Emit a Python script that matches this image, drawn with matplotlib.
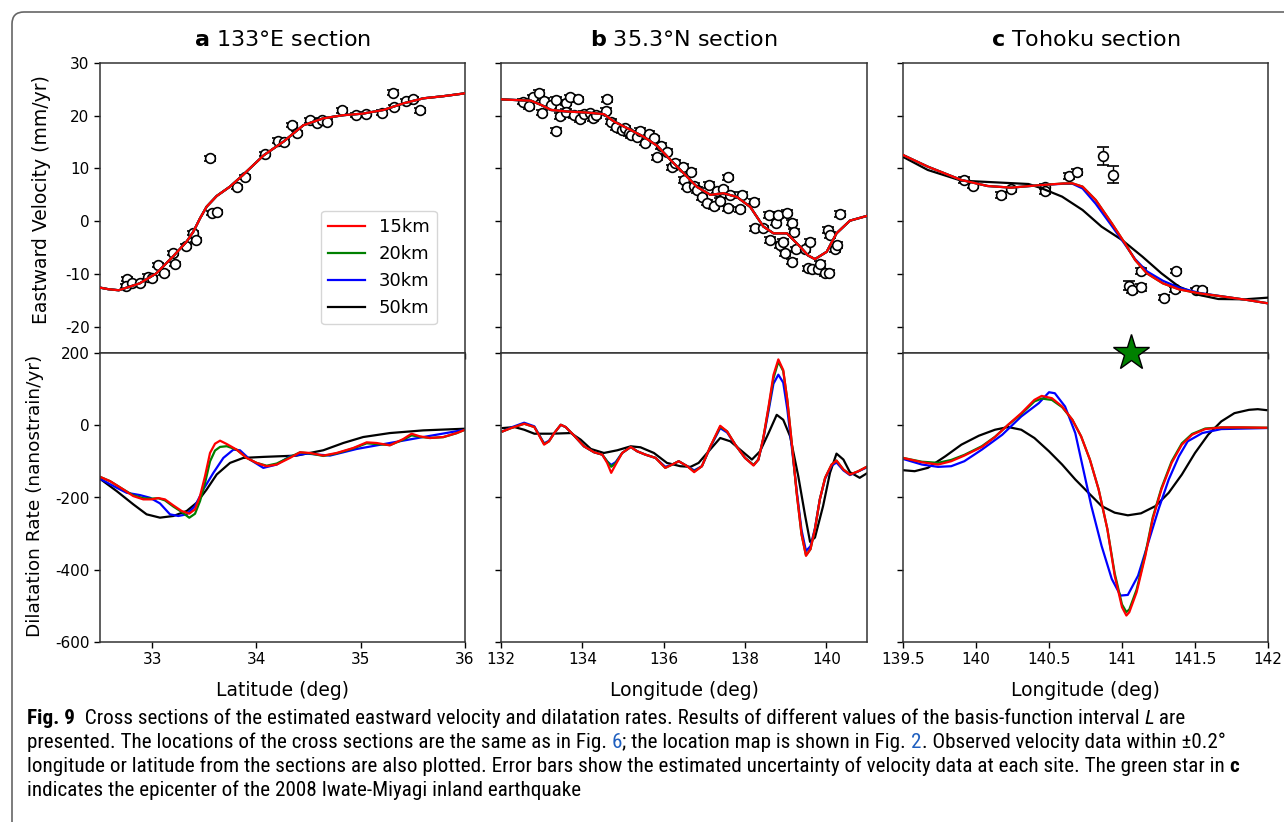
import matplotlib
matplotlib.use('Agg')
import matplotlib.pyplot as plt
from matplotlib import font_manager
from matplotlib.patches import FancyBboxPatch
from matplotlib.transforms import IdentityTransform
from matplotlib.ticker import FormatStrFormatter

plt.rcParams['axes.unicode_minus'] = False
plt.rcParams['font.family'] = ['DejaVu Sans']

intervals = ['15km', '20km', '30km', '50km']
line_colors = ['red', 'green', 'blue', 'black']

# ---- a: 133E section ----
lat_a_v = [32.5, 32.58, 32.68, 32.88, 33.04, 33.2, 33.33, 33.395, 33.459, 33.523, 33.619, 33.746,
           33.87, 34.07, 34.26, 34.45, 34.64, 34.83, 35.02, 35.22, 35.41, 35.6, 35.79, 36.0]
vel_a = [-12.6, -12.9, -13.1, -11.8, -9.9, -6.7, -3.9, -2.0, 0.54, 2.76, 4.78, 6.55,
         8.75, 12.5, 15.1, 18.2, 19.5, 20.1, 20.4, 21.1, 22.35, 23.3, 23.7, 24.25]

obs_a_lat = [32.76, 32.75, 32.81, 32.88, 32.96, 33.0, 33.06, 33.11, 33.2, 33.22, 33.32, 33.39,
             33.42, 33.55, 33.57, 33.62, 33.81, 33.89, 34.08, 34.21, 34.26, 34.34, 34.39, 34.51,
             34.58, 34.63, 34.68, 34.82, 34.95, 35.05, 35.2, 35.31, 35.32, 35.43, 35.5, 35.57]
obs_a_vel = [-11.0, -12.3, -11.7, -11.7, -10.5, -10.8, -8.3, -9.9, -6.1, -8.1, -4.7, -2.3,
             -3.6, 11.9, 1.5, 1.8, 6.5, 8.4, 12.7, 15.3, 15.1, 18.2, 16.7, 19.1,
             18.7, 19.2, 18.9, 21.0, 20.1, 20.3, 20.6, 24.4, 21.7, 22.7, 23.2, 21.0]
obs_a_err = [0.4] * len(obs_a_lat)

dil_a_x = [32.5, 32.596, 32.724, 32.819, 32.915, 32.995, 33.059, 33.123, 33.203, 33.283, 33.356,
           33.411, 33.459, 33.507, 33.555, 33.603, 33.651, 33.715, 33.81, 33.906, 34.002, 34.098,
           34.194, 34.322, 34.418, 34.513, 34.641, 34.769, 34.929, 35.057, 35.152, 35.28, 35.408,
           35.488, 35.568, 35.664, 35.792, 35.92, 36.0]
dil_a_15 = [-142.8, -154.7, -177.7, -196.1, -205.2, -205.2, -201.6, -205.2, -221.8, -237.4, -244.7,
            -232.8, -196.1, -141, -76.7, -51, -42.7, -51.9, -67.5, -90.4, -104.2, -113.4,
            -108.8, -90.4, -74.8, -76.7, -84, -76.7, -62.9, -47.3, -49.1, -55.6, -38.1,
            -23.4, -30.8, -35.3, -32.6, -21.6, -12.4]
dil_a_20 = [-142.8, -154.7, -177.7, -194, -202, -203, -202, -208, -225, -240, -256,
            -245, -210, -160, -100, -70, -60, -58, -67.5, -90.4, -104.2, -112,
            -106, -88, -75, -78, -85, -78, -64, -50, -52, -55, -40,
            -28, -32, -35.3, -33, -22, -12.4]
dil_a_30_x = [32.5, 32.66, 32.756, 32.883, 32.979, 33.075, 33.171, 33.251, 33.331, 33.411, 33.491,
              33.587, 33.683, 33.779, 33.842, 33.938, 34.066, 34.194, 34.322, 34.481, 34.705, 34.961,
              35.28, 35.6, 36.0]
dil_a_30 = [-148.3, -173, -187, -193.3, -200.7, -216.3, -246.6, -251.2, -246.6, -223.6, -177.7,
            -131.8, -90.4, -67.5, -69.3, -95, -118, -108.8, -85.8, -78.5, -84, -65.7,
            -49.1, -32.6, -12.4]
dil_a_50_x = [32.5, 32.66, 32.82, 32.947, 33.075, 33.203, 33.331, 33.427, 33.523, 33.619, 33.747,
              33.874, 34.066, 34.386, 34.641, 34.833, 35.024, 35.28, 35.6, 36.0]
dil_a_50 = [-148.3, -182.3, -219.1, -246.6, -255.8, -251.2, -237.4, -214.5, -177.7, -136.3, -104.2,
            -90.4, -87.6, -84, -69.3, -49.1, -32.6, -21.6, -14.2, -9.6]

# ---- b: 35.3N section ----
lon_b_v = [132.0, 132.74, 133.0, 133.23, 133.63, 134.12, 134.53, 134.78, 135.19, 135.51, 135.84,
           136.17, 136.49, 136.82, 137.15, 137.47, 137.8, 138.13, 138.45, 138.7, 139.03, 139.35,
           139.55, 139.72, 140.01, 140.25, 140.58, 141.0]
vel_b = [23.1, 22.85, 22.0, 21.1, 20.8, 20.6, 20.3, 18.9, 17.3, 16.0, 14.3,
         11.6, 9.1, 6.5, 5.0, 5.3, 4.6, 2.7, -1.0, -2.3, -2.3, -4.8,
         -6.5, -7.2, -5.8, -2.3, 0.1, 1.0]

obs_b_lon = [132.53, 132.69, 132.78, 132.94, 133.05, 133.02, 133.23, 133.35, 133.35, 133.45, 133.59,
             133.61, 133.7, 133.8, 133.9, 133.94, 134.04, 134.19, 134.25, 134.33, 134.57, 134.61,
             134.7, 134.82, 134.98, 135.06, 135.15, 135.19, 135.35, 135.43, 135.55, 135.64, 135.76,
             135.84, 135.94, 136.08, 136.21, 136.29, 136.48, 136.51, 136.66, 136.58, 136.74, 136.82,
             136.94, 137.07, 137.11, 137.23, 137.31, 137.39, 137.47, 137.57, 137.57, 137.64, 137.87,
             137.92, 138.21, 138.25, 138.45, 138.58, 138.62, 138.76, 138.8, 138.85, 138.94, 138.98,
             139.03, 139.15, 139.15, 139.21, 139.26, 139.48, 139.56, 139.6, 139.64, 139.8, 139.84,
             139.96, 140.05, 140.07, 140.1, 140.21, 140.25, 140.33]
obs_b_vel = [22.67, 21.85, 23.49, 24.37, 22.86, 20.58, 22.03, 22.98, 17.17, 19.95, 22.48,
             20.77, 23.49, 20.14, 23.11, 19.32, 20.33, 20.45, 19.51, 20.14, 20.96, 23.11,
             18.87, 17.8, 17.29, 17.61, 16.66, 16.34, 15.9, 17.17, 14.89, 16.53, 15.71,
             12.11, 14.26, 13.18, 10.21, 11.09, 10.33, 7.81, 9.38, 6.55, 6.68, 5.92,
             4.53, 3.52, 6.87, 2.89, 5.8, 3.9, 6.05, 8.33, 2.45, 4.98, 2.26,
             4.98, 3.71, -1.35, -1.35, 1.18, -3.57, -0.28, 1.18, -4.52, -3.89, -6.1,
             1.62, -0.28, -7.68, -1.98, -5.34, -5.34, -8.94, -3.89, -9.13, -9.13, -8.12,
             -9.89, -1.67, -9.76, -2.61, -5.34, -4.52, 1.37]
obs_b_err = [0.5] * len(obs_b_lon)

dil_b_x = [132.04, 132.25, 132.57, 132.82, 132.94, 133.06, 133.18, 133.31, 133.47, 133.59, 133.8,
           134.04, 134.29, 134.49, 134.61, 134.71, 134.82, 134.98, 135.19, 135.35, 135.55, 135.8,
           136.04, 136.21, 136.37, 136.58, 136.75, 136.94, 137.15, 137.39, 137.56, 137.76, 138.0,
           138.21, 138.33, 138.45, 138.58, 138.7, 138.82, 138.94, 139.04, 139.15, 139.27, 139.39,
           139.5, 139.61, 139.72, 139.84, 139.97, 140.13, 140.25, 140.42, 140.58, 140.78, 140.99]
dil_b_15 = [-17, -7.8, 4.1, -5, -28.9, -53.7, -44.5, -21.6, 1.4, -5, -28.9,
            -58.3, -74.8, -81.3, -104.2, -131.8, -108.8, -76.7, -60.1, -72.1, -81.3, -90.4,
            -118, -108.8, -99.6, -113.4, -129.9, -113.4, -58.3, -1.4, -17, -53.7, -90.4,
            -111.6, -95, -35.3, 51.9, 139.1, 182.3, 152.9, 70.3, -49.1, -186.9, -301.7,
            -361.4, -343, -287.9, -205.2, -145.5, -108.8, -97.8, -122.6, -136.4, -127.7, -115.2]
dil_b_20 = [-17, -7.8, 4.1, -5, -28, -52, -44.5, -21.6, 1.4, -5, -28.9,
            -58.3, -74.8, -81.3, -100, -115, -105, -76.7, -60.1, -72.1, -81.3, -90.4,
            -118, -108.8, -99.6, -113.4, -128, -113.4, -58.3, -4, -17, -53.7, -90.4,
            -110, -95, -35.3, 48, 130, 176, 150, 70.3, -49.1, -186.9, -301.7,
            -360, -343, -287.9, -205.2, -145.5, -108.8, -97.8, -122.6, -136.4, -127.7, -115.2]
dil_b_30 = [-17, -6, 7, -3, -27, -50, -43, -21.6, 1, -5, -28.9,
            -58.3, -74.8, -81.3, -100, -110, -102, -76.7, -60.1, -72.1, -81.3, -90.4,
            -115, -108.8, -99.6, -113.4, -125, -113.4, -60, -8, -20, -53.7, -90.4,
            -110, -95, -38, 40, 115, 140, 118, 45, -60, -180, -290,
            -348, -335, -285, -205, -148, -112, -103, -125, -138, -128, -117]
dil_b_50_x = [132.04, 132.33, 132.57, 132.82, 133.23, 133.72, 133.96, 134.21, 134.53, 134.86, 135.19,
              135.43, 135.76, 136.08, 136.41, 136.66, 136.86, 137.07, 137.39, 137.64, 137.88, 138.17,
              138.37, 138.58, 138.78, 138.94, 139.11, 139.31, 139.48, 139.6, 139.72, 139.92, 140.09,
              140.25, 140.42, 140.58, 140.82, 140.99]
dil_b_50 = [-7.8, -5, -12.4, -23.4, -23.4, -21.6, -39.9, -65.7, -76.7, -69.3, -58.3,
            -61, -76.7, -104.2, -113.4, -115.2, -104.2, -76.7, -35.3, -44.5, -67.5, -95,
            -72.1, -21.6, 28.9, 15.2, -30.8, -141, -251.2, -322.8, -310.9, -223.6, -131.8,
            -78.5, -95, -129.9, -145.5, -133.5]

# ---- c: Tohoku section ----
lon_c_v = [139.5, 139.67, 139.9, 140.08, 140.24, 140.45, 140.6, 140.66, 140.73, 140.82, 140.93,
           141.02, 141.09, 141.17, 141.28, 141.39, 141.53, 141.73, 141.86, 142.0]
vel_c_15 = [12.55, 10.34, 7.81, 6.67, 6.36, 6.86, 7.15, 7.18, 6.55, 4.02, -0.4,
            -4.2, -7.36, -9.89, -11.79, -12.93, -13.69, -14.44, -14.95, -15.58]
vel_c_30 = [12.55, 10.34, 7.81, 6.67, 6.36, 6.86, 7.1, 7.1, 6.2, 3.3, -0.9,
            -4.4, -7.2, -9.5, -11.3, -12.6, -13.6, -14.44, -14.95, -15.58]
lon_c_v50 = [139.5, 139.67, 139.9, 140.13, 140.36, 140.45, 140.59, 140.73, 140.86, 141.0, 141.14,
             141.27, 141.39, 141.53, 141.66, 141.84, 142.0]
vel_c_50 = [12.2, 9.71, 7.68, 7.37, 7.05, 6.23, 4.65, 2.12, -1.04, -3.57, -6.73,
            -9.89, -12.42, -14.0, -14.76, -14.82, -14.5]

obs_c_lon = [139.92, 139.98, 140.17, 140.24, 140.47, 140.47, 140.64, 140.69, 140.87, 140.94,
             141.05, 141.07, 141.13, 141.13, 141.29, 141.36, 141.37, 141.51, 141.55]
obs_c_vel = [7.81, 6.73, 4.96, 6.04, 6.55, 5.73, 8.52, 9.33, 12.37, 8.83,
             -12.23, -13.05, -9.45, -12.55, -14.5, -12.93, -9.38, -13.05, -13.05]
obs_c_err = [0.6, 0.5, 0.6, 0.5, 0.5, 0.6, 0.6, 0.6, 1.7, 1.6,
             0.8, 0.6, 0.5, 0.7, 0.5, 0.5, 0.4, 0.4, 0.4]
epicenter_lon = 141.06

dil_c_x = [139.5, 139.63, 139.74, 139.83, 139.92, 140.04, 140.13, 140.22, 140.31, 140.4, 140.45,
           140.52, 140.59, 140.66, 140.72, 140.78, 140.84, 140.9, 140.95, 141.0, 141.03, 141.05,
           141.1, 141.16, 141.21, 141.27, 141.34, 141.41, 141.48, 141.57, 141.68, 141.82, 141.99]
dil_c_15 = [-90.4, -102.4, -108.8, -99.6, -84, -60.1, -32.6, 1.4, 33.5, 70.3, 81.3,
            74.9, 51.9, 15.2, -30.8, -95, -177.7, -287.9, -416.5, -503.7, -526.7, -517.5,
            -462.4, -361.4, -260.3, -177.7, -104.2, -53.7, -26.2, -10.6, -6, -6, -6.9]
dil_c_20 = [-90.4, -101, -104, -96, -82, -58, -32, 1, 31, 66, 74,
            70, 50, 15.2, -30.8, -95, -177.7, -287.9, -410, -496, -517, -510,
            -455, -356, -256, -174, -100, -50, -24, -9, -6, -6, -6.9]
dil_c_30_x = [139.5, 139.63, 139.74, 139.83, 139.92, 140.04, 140.18, 140.31, 140.43, 140.5, 140.54,
              140.61, 140.68, 140.73, 140.79, 140.86, 140.93, 140.99, 141.04, 141.11, 141.18, 141.25,
              141.32, 141.39, 141.45, 141.55, 141.68, 141.99]
dil_c_30 = [-93.2, -108.8, -115.2, -113.4, -99.6, -67.5, -26.2, 24.3, 61.1, 91.4, 88.6,
            51.9, -21.6, -113.4, -223.6, -333.8, -425.6, -471.5, -469.7, -416.5, -324.7, -232.8,
            -150.2, -85.8, -44.5, -21.6, -10.6, -7.8]
dil_c_50_x = [139.5, 139.58, 139.67, 139.79, 139.9, 140.02, 140.13, 140.22, 140.31, 140.4, 140.5,
              140.59, 140.68, 140.77, 140.86, 140.95, 141.04, 141.13, 141.23, 141.32, 141.41, 141.5,
              141.59, 141.68, 141.77, 141.87, 141.93, 141.99]
dil_c_50 = [-124.4, -127.2, -118, -85.9, -53.7, -28.9, -12.4, -5, -12.4, -35.3, -72.1,
            -108.8, -150.1, -186.9, -223.6, -242, -249.3, -243.8, -223.6, -186.9, -136.4, -76.7,
            -26.2, 10.6, 33.5, 42.7, 44.5, 41.8]

# ---------------- figure ----------------
W, H = 1284, 822
fig = plt.figure(figsize=(W / 100, H / 100), dpi=100)


def px_axes(x0, x1, y0, y1):
    return fig.add_axes([x0 / W, 1 - y1 / H, (x1 - x0) / W, (y1 - y0) / H])


cols = [(100, 465), (501, 867), (903, 1268)]
tops = [px_axes(c[0], c[1], 63, 353) for c in cols]
bots = [px_axes(c[0], c[1], 353, 642) for c in cols]

xlims = [(32.5, 36), (132, 141), (139.5, 142)]
xticks = [[33, 34, 35, 36], [132, 134, 136, 138, 140], [139.5, 140, 140.5, 141, 141.5, 142]]
titles = [r'$\mathbf{a}$ 133°E section', r'$\mathbf{b}$ 35.3°N section', r'$\mathbf{c}$ Tohoku section']
xlabels = ['Latitude (deg)', 'Longitude (deg)', 'Longitude (deg)']

for i in range(3):
    for ax in (tops[i], bots[i]):
        ax.set_xlim(*xlims[i])
        ax.set_xticks(xticks[i])
        ax.xaxis.set_major_formatter(FormatStrFormatter('%g'))
        ax.tick_params(direction='out', length=4, width=1, labelsize=11, colors='black')
        for s in ax.spines.values():
            s.set_linewidth(1.1)
            s.set_color('#333333')
    tops[i].set_ylim(-25, 30)
    tops[i].set_yticks([30, 20, 10, 0, -10, -20])
    bots[i].set_ylim(-600, 200)
    bots[i].set_yticks([200, 0, -200, -400, -600])
    tops[i].tick_params(labelbottom=False)
    if i > 0:
        tops[i].tick_params(labelleft=False)
        bots[i].tick_params(labelleft=False)
    tops[i].set_title(titles[i], fontsize=16, pad=12)
    xc = (cols[i][0] + cols[i][1]) / 2 / W
    fig.text(xc, 1 - 690 / H, xlabels[i], fontsize=13.5, ha='center', va='center')

fig.text(42 / W, 1 - 200 / H, 'Eastward Velocity (mm/yr)', rotation=90, fontsize=13.5,
         ha='center', va='center')
fig.text(35 / W, 1 - 496 / H, 'Dilatation Rate (nanostrain/yr)', rotation=90, fontsize=13.3,
         ha='center', va='center')

eb = dict(fmt='o', mfc='white', mec='black', ecolor='black', ms=7, mew=1.2,
          capsize=4.5, elinewidth=1, zorder=2)
lw = 1.6

# top panels
ax = tops[0]
ax.errorbar(obs_a_lat, obs_a_vel, yerr=obs_a_err, **eb)
handles = {}
for name, col in zip(intervals[::-1], line_colors[::-1]):
    handles[name], = ax.plot(lat_a_v, vel_a, color=col, lw=lw, zorder=3)
ax.legend([handles[n] for n in intervals], intervals, loc='lower right',
          bbox_to_anchor=(0.948, 0.068), fontsize=13, handlelength=2.0)

ax = tops[1]
ax.errorbar(obs_b_lon, obs_b_vel, yerr=obs_b_err, **eb)
for col in line_colors[::-1]:
    ax.plot(lon_b_v, vel_b, color=col, lw=lw, zorder=3)

ax = tops[2]
ax.errorbar(obs_c_lon, obs_c_vel, yerr=obs_c_err, **eb)
ax.plot(lon_c_v50, vel_c_50, color='black', lw=lw, zorder=3)
ax.plot(lon_c_v, vel_c_30, color='blue', lw=lw, zorder=3)
ax.plot(lon_c_v, vel_c_15, color='green', lw=lw, zorder=3)
ax.plot(lon_c_v, vel_c_15, color='red', lw=lw, zorder=3)

# bottom panels
ax = bots[0]
ax.plot(dil_a_50_x, dil_a_50, color='black', lw=lw)
ax.plot(dil_a_30_x, dil_a_30, color='blue', lw=lw)
ax.plot(dil_a_x, dil_a_20, color='green', lw=lw)
ax.plot(dil_a_x, dil_a_15, color='red', lw=lw)

ax = bots[1]
ax.plot(dil_b_50_x, dil_b_50, color='black', lw=lw)
ax.plot(dil_b_x, dil_b_30, color='blue', lw=lw)
ax.plot(dil_b_x, dil_b_20, color='green', lw=lw)
ax.plot(dil_b_x, dil_b_15, color='red', lw=lw)

ax = bots[2]
ax.plot(dil_c_50_x, dil_c_50, color='black', lw=lw)
ax.plot(dil_c_30_x, dil_c_30, color='blue', lw=lw)
ax.plot(dil_c_x, dil_c_20, color='green', lw=lw)
ax.plot(dil_c_x, dil_c_15, color='red', lw=lw)
ax.plot([epicenter_lon], [200], marker='*', ms=27, mfc='green', mec='black', mew=1,
        clip_on=False, zorder=10, linestyle='none')

# outer frame
frame = FancyBboxPatch((12, -30), 1320, H - 12 + 30, boxstyle='round,pad=0,rounding_size=12',
                       transform=IdentityTransform(), fill=False, ec='#666666', lw=1.2)
fig.add_artist(frame)

# caption
names = {f.name for f in font_manager.fontManager.ttflist}
cap_font = next((n for n in ['Liberation Sans Narrow', 'Roboto Condensed', 'Roboto', 'Open Sans']
                 if n in names), 'DejaVu Sans')
link_blue = '#1f5fbf'
caption = [
    [('Fig. 9', 'bold', 'normal', 'black'),
     ('  Cross sections of the estimated eastward velocity and dilatation rates. Results of different '
      'values of the basis-function interval ', 'normal', 'normal', 'black'),
     ('L', 'normal', 'italic', 'black'), (' are', 'normal', 'normal', 'black')],
    [('presented. The locations of the cross sections are the same as in Fig. ', 'normal', 'normal', 'black'),
     ('6', 'normal', 'normal', link_blue),
     ('; the location map is shown in Fig. ', 'normal', 'normal', 'black'),
     ('2', 'normal', 'normal', link_blue),
     ('. Observed velocity data within ±0.2°', 'normal', 'normal', 'black')],
    [('longitude or latitude from the sections are also plotted. Error bars show the estimated '
      'uncertainty of velocity data at each site. The green star in ', 'normal', 'normal', 'black'),
     ('c', 'bold', 'normal', 'black')],
    [('indicates the epicenter of the 2008 Iwate-Miyagi inland earthquake', 'normal', 'normal', 'black')],
]
renderer = fig.canvas.get_renderer()


def seg_width(s, size, weight, style):
    kw = dict(fontsize=size, family=cap_font, weight=weight, style=style)
    t1 = fig.text(0, 0, '|' + s + '|', **kw)
    t2 = fig.text(0, 0, '||', **kw)
    w = t1.get_window_extent(renderer).width - t2.get_window_extent(renderer).width
    t1.remove()
    t2.remove()
    return w


# fit the font size so that the first three lines end where they do in the original
base = 12
measured = sum(seg_width(s, base, wt, st) for line in caption[:3] for s, wt, st, _ in line)
target = (1180 - 27) + (1232 - 27) + (1232 - 27)
cap_size = base * target / measured
for li, line in enumerate(caption):
    x = 27
    y = 724 + 24 * li
    for s, wt, st, col in line:
        fig.text(x / W, 1 - y / H, s, fontsize=cap_size, family=cap_font, weight=wt, style=st,
                 color=col, ha='left', va='baseline')
        x += seg_width(s, cap_size, wt, st)

fig.savefig('out.png', dpi=100)
